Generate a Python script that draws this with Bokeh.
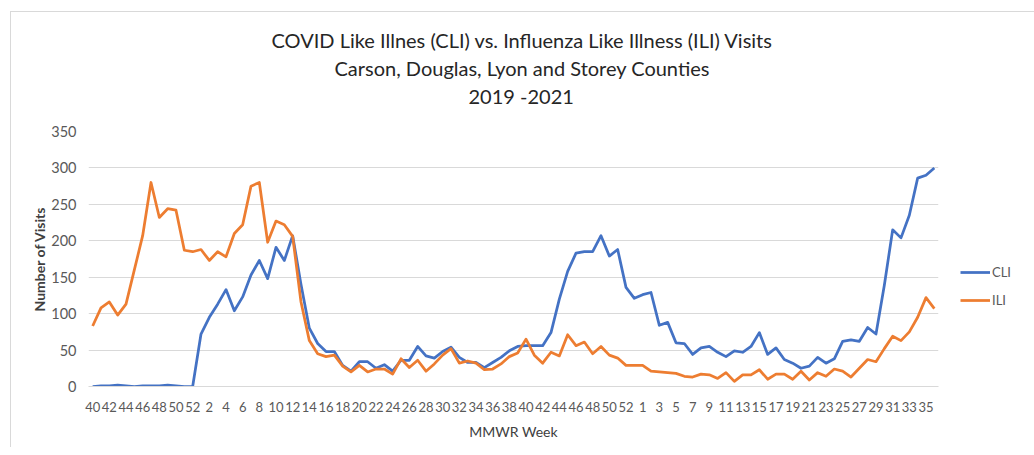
from bokeh.plotting import figure
from bokeh.models import (Range1d, FixedTicker, Title, Legend, LegendItem,
                          ColumnDataSource)
from bokeh.embed import file_html
from bokeh.resources import INLINE

# MMWR week labels: 2019 w40-52, 2020 w1-53, 2021 w1-36
weeks_2019 = list(range(40, 53))
weeks_2020 = list(range(1, 54))
weeks_2021 = list(range(1, 37))
week_labels = [str(w) for w in weeks_2019 + weeks_2020 + weeks_2021]

cli = [0, 1, 1, 2, 1, 0, 1, 1, 1, 2, 1, 0, 0,
       72, 95, 113, 133, 104, 123, 153, 173, 148, 191, 173, 207,
       140, 80, 59, 48, 48, 29, 21, 34, 34, 25, 30, 21, 36, 36, 55, 42,
       39, 48, 54, 40, 33, 33, 26, 33, 40, 49, 55, 56, 56, 56, 74, 120,
       158, 183, 185, 185, 207,
       179, 188, 136, 121, 126, 129, 84, 88, 60, 59, 44, 53, 55, 47, 41,
       49, 47, 55, 74, 44,
       53, 37, 32, 25, 28, 40, 32, 38, 62, 64, 62, 81, 72, 139, 215, 204,
       235, 286, 290, 300]

ili = [83, 108, 116, 98, 113, 160, 207, 280, 232, 244, 242, 187, 185, 188,
       173, 185, 178, 210, 222, 275, 280,
       198, 227, 222, 206, 116, 63, 45, 41, 43, 28, 20, 29, 20, 24, 24, 17,
       38, 26, 36, 21,
       31, 43, 52, 32, 35, 32, 23, 24, 31, 41, 46, 65, 43, 32, 47, 42, 71,
       56, 61, 45, 55,
       43, 39, 29, 29, 29, 21, 20, 19, 18, 14, 13, 17, 16, 11, 19, 7, 16,
       16, 23, 10,
       17, 17, 10, 21, 9, 19, 14, 24, 21, 13, 25, 37, 34, 52, 69, 63, 75,
       95, 122, 107]

y_ticks = [0, 50, 100, 150, 200, 250, 300, 350]
title_lines = ["COVID Like Illnes (CLI) vs. Influenza Like Illness (ILI) Visits",
               "Carson, Douglas, Lyon and Storey Counties",
               "2019 -2021"]

idx = list(range(len(week_labels)))
src = ColumnDataSource(dict(x=idx, cli=cli, ili=ili))

FONT = "Lato"
BORDER = "1px solid #d9d9d9"

p = figure(frame_width=850, frame_height=255, output_backend="svg",
           toolbar_location=None,
           x_range=Range1d(-0.5, len(week_labels) - 0.5),
           y_range=Range1d(0, 350),
           min_border_left=77, min_border_right=89,
           min_border_bottom=61, min_border_top=119,
           margin=(11, 0, 0, 10),
           styles={"border-top": BORDER, "border-left": BORDER,
                   "border-right": BORDER})

p.outline_line_color = None
p.background_fill_color = "white"
p.border_fill_color = "white"

# spacer between the plot frame and the title block
p.add_layout(Title(text=" ", text_font_size="2px", standoff=19), "above")

# titles, added bottom-up; left-aligned with offsets so that each line
# is centred a little right of the plot frame, as in the reference
for txt, off in [(title_lines[2], 380), (title_lines[1], 246),
                 (title_lines[0], 183)]:
    p.add_layout(Title(text=txt, align="left", offset=off, text_font=FONT,
                       text_font_size="20px", text_font_style="normal",
                       text_color="#262626", standoff=2), "above")

# grid
p.xgrid.grid_line_color = None
p.ygrid.grid_line_color = "#d9d9d9"
p.ygrid.grid_line_width = 1
p.ygrid.ticker = FixedTicker(ticks=y_ticks)

# y axis
p.yaxis.ticker = FixedTicker(ticks=y_ticks)
p.yaxis.axis_line_color = None
p.yaxis.major_tick_line_color = None
p.yaxis.minor_tick_line_color = None
p.yaxis.major_label_text_font = FONT
p.yaxis.major_label_text_font_size = "14.5px"
p.yaxis.major_label_text_color = "#595959"
p.yaxis.major_label_standoff = 6
p.yaxis.axis_label = "Number of Visits"
p.yaxis.axis_label_text_font = FONT
p.yaxis.axis_label_text_font_size = "14px"
p.yaxis.axis_label_text_font_style = "bold"
p.yaxis.axis_label_text_color = "#404040"
p.yaxis.axis_label_standoff = 0

# x axis
p.xaxis.ticker = FixedTicker(ticks=idx[::2])
p.xaxis.major_label_overrides = {i: week_labels[i] for i in idx}
p.xaxis.axis_line_color = "#d9d9d9"
p.xaxis.major_tick_line_color = None
p.xaxis.minor_tick_line_color = None
p.xaxis.major_label_text_font = FONT
p.xaxis.major_label_text_font_size = "13px"
p.xaxis.major_label_text_color = "#595959"
p.xaxis.major_label_standoff = 9
p.xaxis.axis_label = "MMWR Week"
p.xaxis.axis_label_text_font = FONT
p.xaxis.axis_label_text_font_size = "14px"
p.xaxis.axis_label_text_font_style = "normal"
p.xaxis.axis_label_text_color = "#404040"
p.xaxis.axis_label_standoff = 8

r_cli = p.line("x", "cli", source=src, line_color="#4472C4", line_width=2.75,
               line_join="round")
r_ili = p.line("x", "ili", source=src, line_color="#ED7D31", line_width=2.75,
               line_join="round")

legend = Legend(items=[LegendItem(label="CLI", renderers=[r_cli]),
                       LegendItem(label="ILI", renderers=[r_ili])],
                location=(22, 76), orientation="vertical",
                border_line_color=None, background_fill_alpha=0,
                glyph_width=30, glyph_height=20, label_height=20,
                label_standoff=2, spacing=8, padding=0, margin=0,
                label_text_font=FONT, label_text_font_size="13px",
                label_text_color="#595959")
p.add_layout(legend, "right")

open("out.html", "w").write(file_html(p, INLINE))
